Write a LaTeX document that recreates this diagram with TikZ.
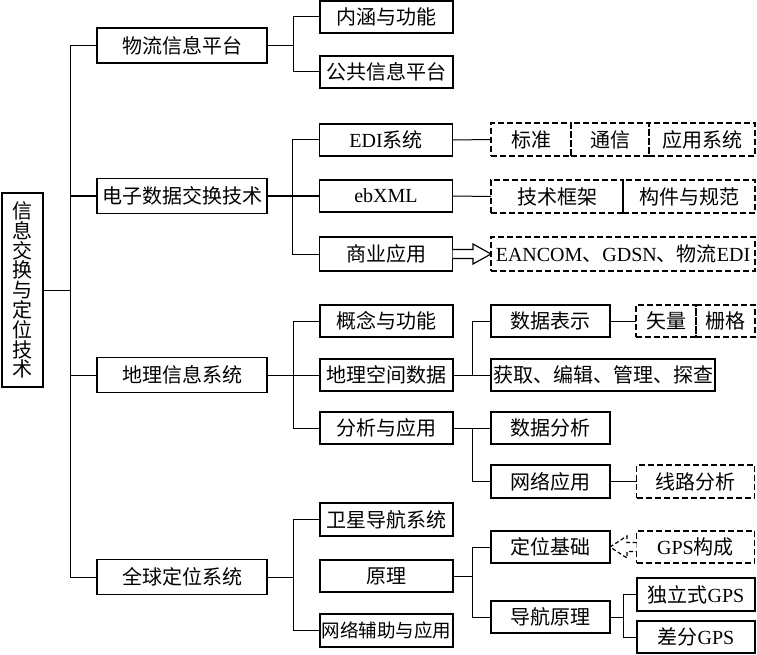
\documentclass[tikz,border=0pt]{standalone}
\usepackage{fontspec}
\setmainfont{Liberation Serif}
\newfontfamily\cjkf{Noto Sans CJK SC}
\usetikzlibrary{calc}
\tikzset{
  box/.style={draw, line width=1.7pt, inner sep=0pt, outer sep=0pt, minimum height=32pt, font=\fontsize{20}{22}\selectfont},
  lvA/.style={box, minimum width=170pt, minimum height=35pt},
  lvB/.style={box, minimum width=133pt},
  lvC/.style={box, minimum width=119pt},
  lvD/.style={box, minimum width=118pt},
  dbox/.style={box, dash pattern=on 6pt off 3pt},
  conn/.style={line width=1pt},
}
\begin{document}
\begin{tikzpicture}[x=1pt,y=-1pt]
\useasboundingbox (0,0) rectangle (757,655);
% root
\node[box, minimum width=41pt, minimum height=194pt, align=center, font=\cjkf\fontsize{20}{19.8}\selectfont] (root) at (22.5,290) {信\\息\\交\\换\\与\\定\\位\\技\\术};
% level 1
\node[lvA] (A1) at (182,45.5) {\cjkf 物流信息平台};
\node[lvA] (A2) at (182,196) {\cjkf 电子数据交换技术};
\node[lvA] (A3) at (182,375) {\cjkf 地理信息系统};
\node[lvA] (A4) at (182,577) {\cjkf 全球定位系统};
% level 2
\node[lvB] (B1) at (386.5,17) {\cjkf 内涵与功能};
\node[lvB] (B2) at (386.5,72) {\cjkf 公共信息平台};
\node[lvB] (B3) at (386,140) {EDI{\cjkf 系统}};
\node[lvB] (B4) at (386,196) {ebXML};
\node[lvB, minimum height=34pt] (B5) at (386,254) {\cjkf 商业应用};
\node[lvB] (B6) at (386.5,321) {\cjkf 概念与功能};
\node[lvB] (B7) at (386.5,375) {\cjkf 地理空间数据};
\node[lvB] (B8) at (386.5,428) {\cjkf 分析与应用};
\node[lvB, minimum height=33pt] (B9) at (386.5,519.5) {\cjkf 卫星导航系统};
\node[lvB] (B10) at (386.5,576) {\cjkf 原理};
\node[lvB, minimum height=33pt, font=\fontsize{18.5}{22}\selectfont] (B11) at (386.5,630.5) {\cjkf 网络辅助与应用};
% EDI cells
\node[dbox, minimum width=80pt, minimum height=33pt] (E1) at (531,139.5) {\cjkf 标准};
\node[dbox, minimum width=78pt, minimum height=33pt] (E2) at (610,139.5) {\cjkf 通信};
\node[dbox, minimum width=106pt, minimum height=33pt] (E3) at (702,139.5) {\cjkf 应用系统};
% ebXML cells
\node[dbox, minimum width=132pt, minimum height=33pt] (X1) at (557,196.5) {\cjkf 技术框架};
\node[dbox, minimum width=132pt, minimum height=33pt] (X2) at (689,196.5) {\cjkf 构件与规范};
% EANCOM
\node[dbox, minimum width=264pt, minimum height=34pt] (EAN) at (623,254) {EANCOM{\cjkf 、}GDSN{\cjkf 、物流}EDI};
% level 3
\node[lvC] (C1) at (550.5,321) {\cjkf 数据表示};
\node[box, minimum width=224pt] (C2) at (603,375) {\cjkf 获取、编辑、管理、探查};
\node[lvC] (C3) at (550.5,428) {\cjkf 数据分析};
\node[lvC, minimum height=33pt] (C4) at (550.5,481.5) {\cjkf 网络应用};
\node[lvC] (C5) at (550.5,547) {\cjkf 定位基础};
\node[lvC] (C6) at (550.5,617) {\cjkf 导航原理};
% level 4
\node[dbox, minimum width=60pt] (V1) at (666,321) {\cjkf 矢量};
\node[dbox, minimum width=59pt] (V2) at (725.5,321) {\cjkf 栅格};
\node[dbox, lvD, minimum height=33pt, dash pattern=on 6pt off 3pt] (L1) at (695.5,481.5) {\cjkf 线路分析};
\node[dbox, lvD, dash pattern=on 6pt off 3pt] (G1) at (695.5,547) {GPS{\cjkf 构成}};
\node[lvD, minimum height=33pt] (D1) at (696,594.5) {{\cjkf 独立式}GPS};
\node[lvD] (D2) at (696,637) {{\cjkf 差分}GPS};
% connectors: root to level 1
\draw[conn] (root.east) -- ++(27,0);
\draw[conn] (A1.west) -- ++(-27,0) |- (A4.west);
\draw[conn] (A2.west) -- ++(-27,0);
\draw[conn] (A3.west) -- ++(-27,0);
% level 1 to level 2
\draw[conn] (A1.east) -- ++(26,0);
\draw[conn] (B1.west) -- ++(-27,0) |- (B2.west);
\draw[conn] (A2.east) -- (B4.west);
\draw[conn] (B3.west) -- ++(-27,0) |- (B5.west);
\draw[conn] (A3.east) -- (B7.west);
\draw[conn] (B6.west) -- ++(-27,0) |- (B8.west);
\draw[conn] (A4.east) -- ++(26,0);
\draw[conn] (B9.west) -- ++(-27,0) |- (B11.west);
% level 2 to level 3
\draw[conn] (B3.east) -- (E1.west);
\draw[conn] (B4.east) -- (X1.west);
\draw[line width=1.2pt, fill=white]
  ($(B5.east)+(0,-4.5)$) -- ($(EAN.west)+(-18,-4.5)$) -- ($(EAN.west)+(-18,-10)$) -- (EAN.west)
  -- ($(EAN.west)+(-18,10)$) -- ($(EAN.west)+(-18,4.5)$) -- ($(B5.east)+(0,4.5)$);
\draw[conn] (B7.east) -- (C2.west);
\draw[conn] (C1.west) -- ++(-19,0) |- (C2.west);
\draw[conn] (B8.east) -- (C3.west);
\draw[conn] (C4.west) -- ++(-19,0) |- (C3.west);
\draw[conn] (B10.east) -- ++(19,0);
\draw[conn] (C5.west) -- ++(-19,0) |- (C6.west);
% level 3 to level 4
\draw[conn] (C1.east) -- (V1.west);
\draw[conn] (C4.east) -- (L1.west);
\draw[line width=1.2pt, dash pattern=on 4pt off 2.5pt, fill=white]
  ($(G1.west)+(0,-4.5)$) -- ($(C5.east)+(17,-4.5)$) -- ($(C5.east)+(17,-11)$) -- (C5.east)
  -- ($(C5.east)+(17,11)$) -- ($(C5.east)+(17,4.5)$) -- ($(G1.west)+(0,4.5)$);
\draw[conn] (C6.east) -- ++(13,0);
\draw[conn] (D1.west) -- ++(-14,0) |- (D2.west);
\end{tikzpicture}
\end{document}
